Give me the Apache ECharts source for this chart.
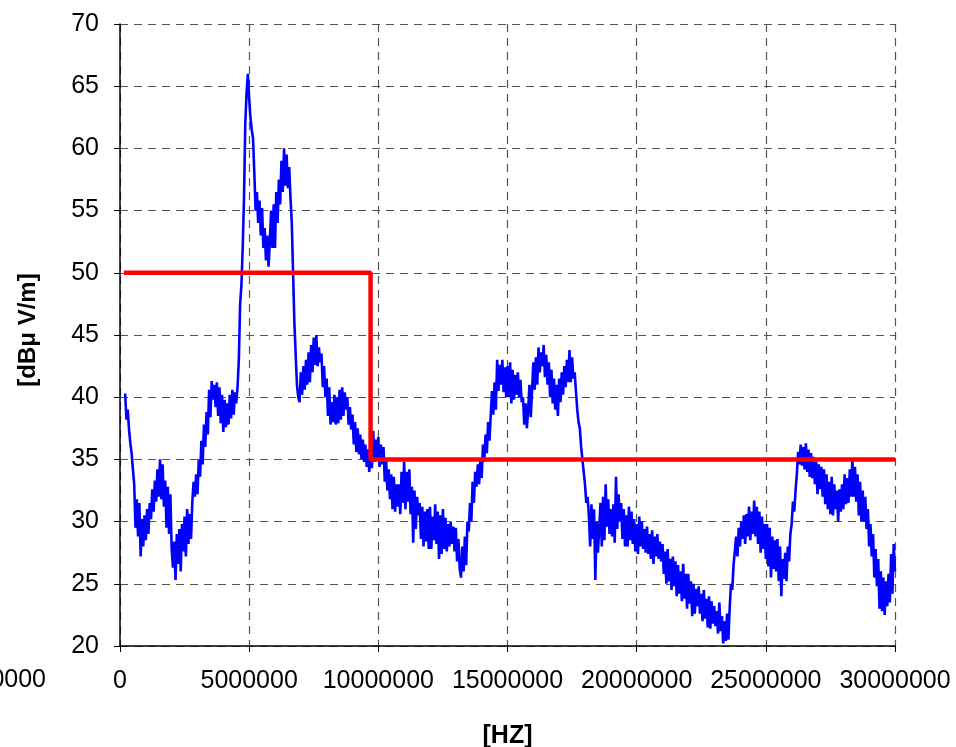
<!DOCTYPE html>
<html>
<head>
<meta charset="utf-8">
<script src="https://cdn.jsdelivr.net/npm/echarts@6/dist/echarts.min.js"></script>
<style>
html,body{margin:0;padding:0;background:#fff;}
#chart{width:956px;height:747px;}
</style>
</head>
<body>
<div id="chart"></div>
<script>
// Sweep grid of the measured field strength (Hz)
const sweepStartHz = 200000;
const sweepStepHz = 50000;
const measuredLevel = [
40.3,38.2,39.0,37.4, 36.3,35.5,34.2,33.0, 29.5,31.8,28.8,31.5, 27.2,30.2,28.0,30.5, 28.5,31.0,29.0,31.5,
30.2,32.6,30.8,33.3, 31.6,34.2,32.0,35.0, 31.8,34.6,31.2,33.3, 29.5,32.8,29.0,32.2, 27.8,26.3,28.4,25.3,
29.0,26.6,29.4,26.0, 29.8,27.6,30.4,27.2, 31.0,28.2,30.6,28.6, 31.6,33.2,32.0,33.8, 32.2,35.0,33.6,36.5,
34.6,37.8,36.0,38.8, 37.0,40.6,38.4,41.3, 39.8,41.0,39.2,41.2, 38.5,40.8,37.9,40.2, 37.2,39.8,37.6,39.5,
37.8,40.2,38.3,40.6, 38.6,40.4,39.5,40.8, 43.0,47.5,49.0,52.0, 56.0,62.0,64.5,66.0, 64.0,62.5,61.5,60.8,
58.0,55.0,56.5,54.0, 55.8,53.0,55.2,52.0, 53.6,51.0,53.0,50.5, 52.5,55.0,52.0,55.5, 52.0,56.5,54.0,57.5,
55.5,59.0,56.5,60.0, 57.0,59.5,56.8,58.5, 56.0,54.0,50.0,46.0, 43.5,41.0,40.0,39.6, 42.0,40.2,42.5,40.6,
43.0,41.0,43.6,41.2, 44.2,42.0,44.8,42.6, 45.0,42.5,44.0,42.8, 43.5,40.8,42.5,40.0, 41.5,38.5,40.8,37.8,
39.6,38.0,40.2,37.8, 40.0,37.9,40.6,38.2, 40.8,38.5,40.4,39.0, 40.0,37.8,39.2,37.4, 38.6,36.2,38.0,35.6,
37.5,35.4,37.0,35.0, 36.6,34.8,36.2,34.4, 35.8,34.0,36.4,34.3, 37.3,34.8,36.6,35.0, 36.8,34.4,36.2,34.6,
36.0,33.2,35.0,32.5, 34.2,31.8,33.8,31.0, 33.6,30.8,33.0,31.2, 33.0,30.6,34.0,31.5, 34.8,31.0,34.0,31.6,
34.2,30.6,32.8,28.3, 32.5,29.4,32.0,30.5, 31.5,28.6,31.2,28.0, 30.8,28.4,31.0,27.8, 31.2,27.8,30.4,28.5,
31.4,28.2,30.8,27.0, 30.5,27.4,31.0,27.8, 30.3,27.6,29.8,28.0, 30.0,28.2,29.6,27.6, 29.5,26.8,28.6,26.2,
25.5,28.0,26.0,28.8, 26.5,30.0,29.2,31.5, 30.0,33.2,31.5,34.0, 32.8,34.6,33.0,35.0, 33.5,36.2,34.8,37.0,
35.5,38.0,36.5,38.5, 40.5,38.6,41.2,39.0, 43.0,40.5,42.6,41.0, 43.0,40.4,42.4,40.0, 42.5,40.0,42.8,39.5,
42.2,39.8,41.8,40.2, 42.0,40.0,41.4,39.6, 40.0,37.8,39.5,37.5, 39.0,41.0,38.4,40.5, 42.8,40.6,43.2,41.0,
44.0,42.0,43.6,42.5, 44.2,41.6,43.4,41.0, 42.8,40.0,42.2,39.5, 41.5,39.0,41.0,38.5, 41.5,39.6,42.0,40.2,
42.5,40.8,43.0,41.2, 43.8,41.2,43.2,41.5, 42.0,40.5,39.0,38.0, 37.5,36.0,35.0,34.0, 33.0,31.5,32.0,30.5,
28.0,31.4,28.6,31.0, 25.3,30.0,27.5,29.5, 31.5,28.0,32.0,28.5, 33.0,29.6,31.8,29.0, 31.0,28.8,31.4,28.3,
33.6,29.4,32.2,30.0, 31.5,28.6,31.0,28.0, 30.5,28.0,31.2,28.5, 30.8,28.2,30.2,27.6, 29.8,27.4,30.4,28.0,
30.0,27.8,29.4,27.5, 29.6,27.4,29.0,27.0, 29.3,26.6,28.8,27.2, 29.0,27.0,28.4,26.8, 28.2,25.8,27.6,25.0,
27.8,25.2,27.0,24.5, 27.2,24.8,26.8,24.0, 26.5,24.2,26.0,23.6, 26.6,23.8,25.8,23.0, 25.8,23.4,25.2,22.4,
25.0,22.6,24.6,23.2, 24.8,22.6,24.2,22.0, 24.5,22.2,23.8,21.5, 24.0,21.4,23.6,21.8, 23.2,21.6,22.8,21.0,
23.5,21.2,22.4,20.2, 22.0,20.4,22.6,20.5, 23.0,25.0,24.5,26.5, 27.6,28.8,27.2,29.5, 28.0,30.0,28.6,30.5,
28.2,30.6,28.8,31.2, 28.5,30.8,29.0,31.7, 28.8,31.2,28.2,30.8, 27.5,30.4,27.8,29.8, 27.0,29.8,26.4,29.5,
25.5,28.8,26.2,28.5, 26.0,28.6,25.2,28.0, 24.0,27.0,25.4,27.5, 25.2,28.0,26.8,29.0, 29.8,31.6,30.8,32.5,
33.8,35.6,34.6,36.2, 34.5,36.0,34.2,36.3, 34.0,35.8,33.6,35.5, 33.5,35.2,33.0,34.8, 32.2,34.6,32.6,34.4,
32.0,34.2,31.4,33.8, 31.0,33.2,30.6,33.6, 30.5,33.0,31.0,32.5, 30.0,32.6,30.8,33.0, 31.0,33.8,31.4,33.5,
31.5,34.2,32.0,35.0, 32.0,34.4,31.6,33.8, 30.5,33.2,30.0,32.5, 30.0,32.0,29.4,31.0, 28.0,29.8,27.2,29.0,
25.5,27.8,24.8,27.0, 23.0,26.0,22.8,25.5, 22.5,25.2,23.2,25.8, 23.5,27.4,24.2,28.2, 26.0
];
// Limit line (Hz, dBuV/m)
const limitFreqHz = [150000, 9700000, 9700000, 30000000];
const limitLevel = [50, 50, 35, 35];

const xTickLabels = ['0','5000000','10000000','15000000','20000000','25000000','30000000'];
const yTickLabels = ['20','25','30','35','40','45','50','55','60','65','70'];

const measuredData = measuredLevel.map((v, i) => [sweepStartHz + i * sweepStepHz, v]);
const limitData = limitFreqHz.map((f, i) => [f, limitLevel[i]]);

const FONT = 'Liberation Sans, Arial, sans-serif';
const chart = echarts.init(document.getElementById('chart'));
chart.setOption({
  animation: false,
  backgroundColor: '#ffffff',
  grid: {left: 120, right: 61, top: 24, bottom: 101, containLabel: false, outerBoundsMode: 'none'},
  xAxis: {
    type: 'value', min: 0, max: 30000000, interval: 5000000,
    name: '[HZ]', nameLocation: 'middle', nameGap: 78,
    nameTextStyle: {fontFamily: FONT, fontSize: 25, fontWeight: 'bold', color: '#000'},
    axisLine: {show: true, lineStyle: {color: '#000', width: 1.5}},
    axisTick: {show: true, inside: false, length: 6, lineStyle: {color: '#000'}},
    axisLabel: {fontFamily: FONT, fontSize: 25, color: '#000', margin: 23,
      formatter: (v) => { const s = String(Math.round(v)); return xTickLabels.includes(s) ? s : ''; }},
    splitLine: {show: true, lineStyle: {color: '#555', type: [8, 6], width: 1.2}}
  },
  yAxis: {
    type: 'value', min: 20, max: 70, interval: 5,
    name: '[dBμ V/m]', nameLocation: 'middle', nameGap: 80, nameRotate: 90,
    nameTextStyle: {fontFamily: FONT, fontSize: 24, fontWeight: 'bold', color: '#000', padding: [0, 0, 0, 10]},
    axisLine: {show: true, lineStyle: {color: '#000', width: 1.5}},
    axisTick: {show: true, inside: false, length: 6, lineStyle: {color: '#000'}},
    axisLabel: {fontFamily: FONT, fontSize: 25, color: '#000', margin: 21,
      formatter: (v) => { const s = String(Math.round(v)); return yTickLabels.includes(s) ? s : ''; }},
    splitLine: {show: true, lineStyle: {color: '#555', type: [8, 6], width: 1.2}}
  },
  graphic: [
    {type: 'text', x: 46, y: 680,
     style: {text: '-5000000', fill: '#000', font: '25px ' + FONT, textAlign: 'right', textVerticalAlign: 'middle'}}
  ],
  series: [
    {
      type: 'line', data: measuredData, showSymbol: false, symbol: 'none',
      lineStyle: {color: '#0000ff', width: 2.6}, z: 3
    },
    {
      type: 'line', data: limitData, showSymbol: false, symbol: 'none',
      lineStyle: {color: '#ff0000', width: 4.5}, z: 4
    }
  ]
});
</script>
</body>
</html>
